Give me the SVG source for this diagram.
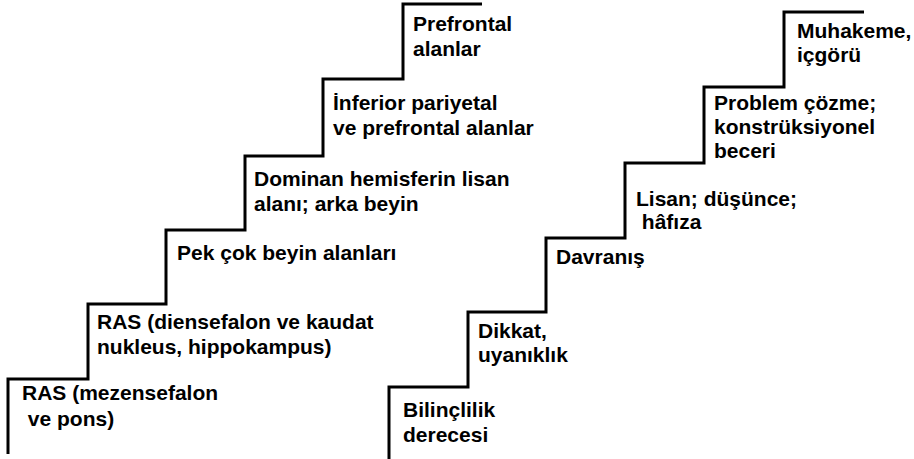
<svg xmlns="http://www.w3.org/2000/svg" width="914" height="459" viewBox="0 0 914 459">
<style>
.stair{fill:none;stroke:#000;stroke-width:3;stroke-linejoin:miter;stroke-linecap:butt}
text{font-family:"Liberation Sans",Arial,sans-serif;font-weight:bold;font-size:21px;fill:#000}
</style>
<rect width="914" height="459" fill="#fff"/>
<g id="connectors">
<path class="stair" d="M8,454 V379 H88 V304 H166 V230 H245 V156 H323 V79 H403 V4 H482"/>
<path class="stair" d="M389,459 V387 H468 V312 H546 V238 H625 V163 H704 V87 H784 V12 H864"/>
</g>
<g id="n1"><text x="22" y="400">RAS (mezensefalon</text><text x="22" y="426" xml:space="preserve"> ve pons)</text></g>
<g id="n2"><text x="97" y="329">RAS (diensefalon ve kaudat</text><text x="97" y="354">nukleus, hippokampus)</text></g>
<g id="n3"><text x="177" y="260">Pek çok beyin alanları</text></g>
<g id="n4"><text x="254" y="186">Dominan hemisferin lisan</text><text x="254" y="211">alanı; arka beyin</text></g>
<g id="n5"><text x="333" y="110">İnferior pariyetal</text><text x="333" y="135">ve prefrontal alanlar</text></g>
<g id="n6"><text x="413" y="31">Prefrontal</text><text x="413" y="56">alanlar</text></g>
<g id="m1"><text x="403" y="417">Bilinçlilik</text><text x="403" y="442">derecesi</text></g>
<g id="m2"><text x="478" y="338">Dikkat,</text><text x="478" y="362">uyanıklık</text></g>
<g id="m3"><text x="556" y="264">Davranış</text></g>
<g id="m4"><text x="636" y="206">Lisan; düşünce;</text><text x="636" y="229" xml:space="preserve"> hâfıza</text></g>
<g id="m5"><text x="714" y="110">Problem çözme;</text><text x="714" y="134">konstrüksiyonel</text><text x="714" y="158">beceri</text></g>
<g id="m6"><text x="797" y="38">Muhakeme,</text><text x="797" y="62">içgörü</text></g>
</svg>
